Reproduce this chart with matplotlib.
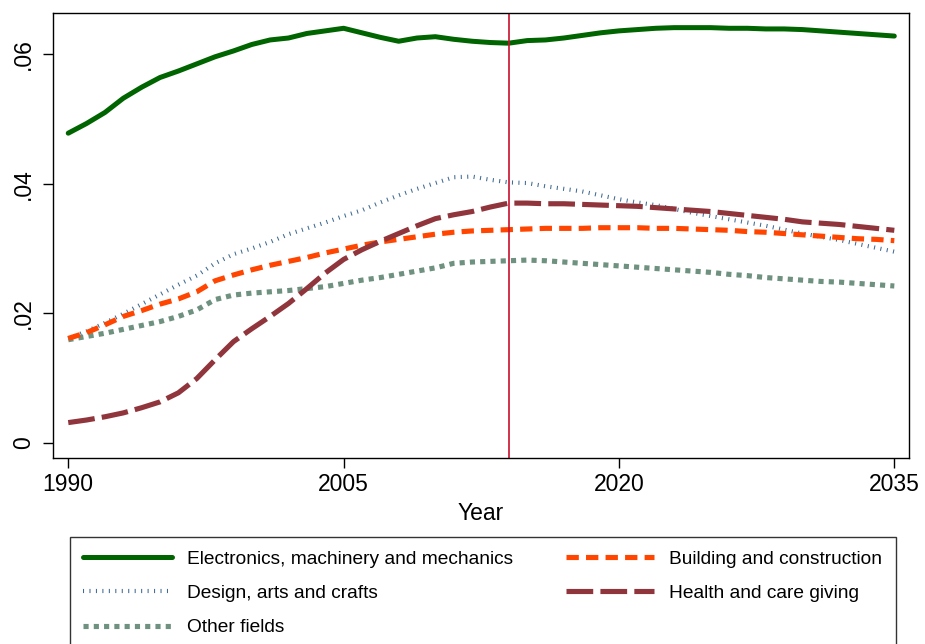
import matplotlib
matplotlib.use("Agg")
import matplotlib.pyplot as plt

plt.rcParams['font.family'] = ['Liberation Sans', 'DejaVu Sans']

# shares by field of study, 1990-2035 (observed up to 2014, projected after)
years = list(range(1990, 2036))

electronics = [.0478, .0493, .0510, .0532, .0549, .0564, .0574, .0585, .0596, .0605,
               .0615, .0622, .0625, .0632, .0636, .0640, .0633, .0626, .0620, .0625,
               .0627, .0623, .0620, .0618, .0617, .0621, .0622, .0625, .0629, .0633,
               .0636, .0638, .0640, .0641, .0641, .0641, .0640, .0640, .0639, .0639,
               .0638, .0636, .0634, .0632, .0630, .0628]

design = [.0161, .0172, .0185, .0199, .0214, .0229, .0244, .0258, .0277, .0291,
          .0300, .0310, .0322, .0331, .0340, .0350, .0359, .0371, .0382, .0392,
          .0401, .0410, .0411, .0406, .0402, .0401, .0396, .0392, .0388, .0382,
          .0376, .0371, .0367, .0361, .0355, .0350, .0345, .0340, .0335, .0329,
          .0323, .0318, .0313, .0307, .0301, .0295]

other = [.0159, .0164, .0169, .0175, .0181, .0187, .0195, .0205, .0221, .0228,
         .0231, .0233, .0235, .0238, .0241, .0246, .0251, .0255, .0260, .0265,
         .0270, .0277, .0279, .0280, .0281, .0282, .0281, .0279, .0277, .0275,
         .0273, .0271, .0269, .0267, .0265, .0263, .0260, .0258, .0255, .0253,
         .0251, .0249, .0248, .0246, .0244, .0242]

building = [.0161, .0170, .0182, .0195, .0204, .0214, .0222, .0233, .0250, .0259,
            .0267, .0274, .0280, .0286, .0293, .0299, .0305, .0310, .0314, .0318,
            .0322, .0325, .0327, .0328, .0329, .0330, .0331, .0331, .0331, .0332,
            .0332, .0332, .0331, .0331, .0330, .0329, .0328, .0326, .0325, .0323,
            .0321, .0319, .0317, .0315, .0314, .0312]

health = [.0031, .0035, .0040, .0046, .0054, .0063, .0077, .0099, .0128, .0156,
          .0176, .0195, .0215, .0238, .0262, .0283, .0298, .0311, .0323, .0335,
          .0346, .0352, .0357, .0364, .0370, .0370, .0369, .0369, .0368, .0367,
          .0366, .0365, .0363, .0361, .0359, .0357, .0354, .0351, .0348, .0345,
          .0341, .0339, .0337, .0334, .0331, .0328]

projection_start = 2014
x_ticks = [1990, 2005, 2020, 2035]
y_ticks = [0, 0.02, 0.04, 0.06]
y_tick_labels = ["0", ".02", ".04", ".06"]

fig = plt.figure(figsize=(9.25, 6.44), dpi=100)
ax = fig.add_axes([0.0573, 0.2893, 0.9254, 0.6905])

h_el, = ax.plot(years, electronics, color="#006400", lw=3.6,
                solid_capstyle="round", label="Electronics, machinery and mechanics")
h_de, = ax.plot(years, design, color="#3f6a92", lw=3.0, dashes=(0.25, 1.3),
                label="Design, arts and crafts")
h_ot, = ax.plot(years, other, color="#6f9180", lw=3.7, dashes=(1.0, 1.0),
                label="Other fields")
h_bu, = ax.plot(years, building, color="#ff4500", lw=3.7, dashes=(2.4, 1.4),
                label="Building and construction")
h_he, = ax.plot(years, health, color="#90353b", lw=3.7, dashes=(5.2, 1.4),
                label="Health and care giving")

ax.axvline(projection_start, color="#c8102e", lw=1.2)

ax.set_xlim(1989.17, 2035.8)
ax.set_ylim(-0.00232, 0.06636)
ax.set_xticks(x_ticks)
ax.set_yticks(y_ticks)
ax.set_yticklabels(y_tick_labels, rotation=90, va="center")
ax.tick_params(axis="both", direction="out", length=7, width=1, labelsize=16.5)
ax.tick_params(axis="x", pad=4)
ax.tick_params(axis="y", pad=6)
for s in ax.spines.values():
    s.set_linewidth(1.0)
ax.set_xlabel("Year", fontsize=16.5, labelpad=4)

leg = fig.legend(handles=[h_el, h_de, h_ot, h_bu, h_he], ncol=2,
                 loc="upper left", bbox_to_anchor=(70 / 925, 1 - 537 / 644),
                 fontsize=13.8, frameon=True, fancybox=False, edgecolor="black",
                 handlelength=4.6, handletextpad=0.78, columnspacing=2.8,
                 labelspacing=0.88, borderpad=0.7, borderaxespad=0)
leg.get_frame().set_linewidth(1.0)

fig.savefig("out.png", dpi=100, facecolor="white")
